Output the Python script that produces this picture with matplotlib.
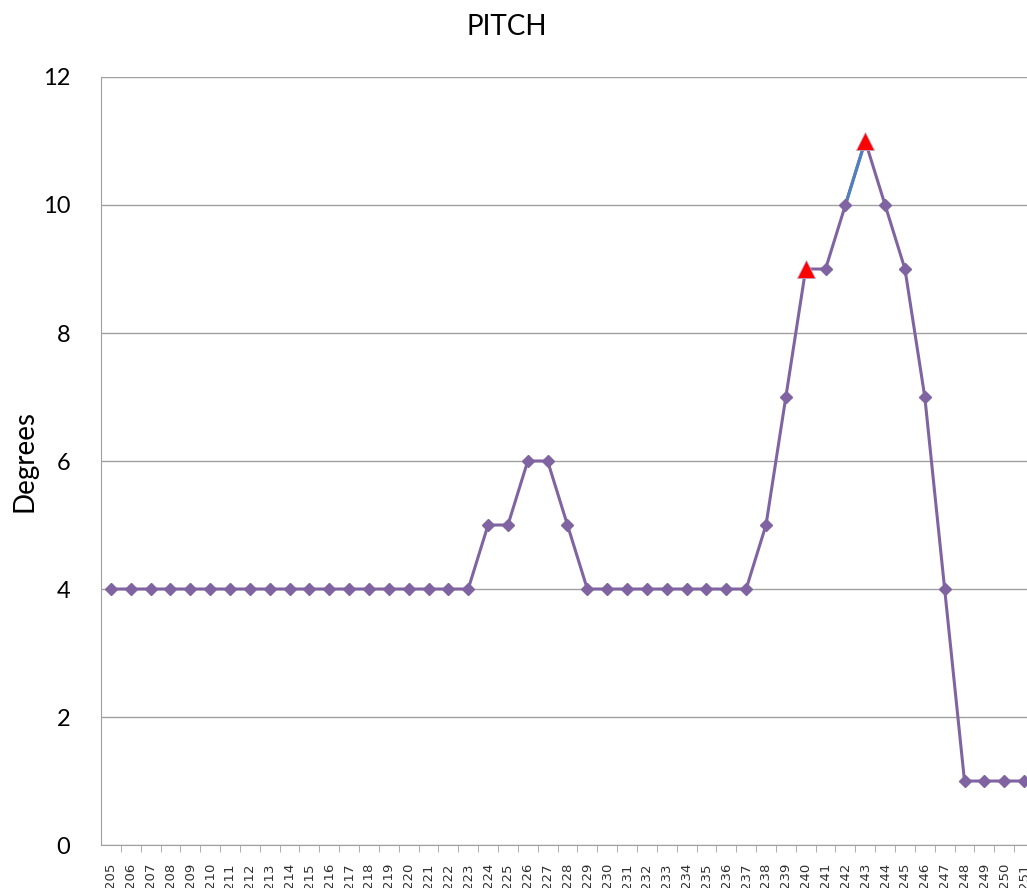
import numpy as np
import matplotlib
matplotlib.use("Agg")
import matplotlib.pyplot as plt

plt.rcParams["font.family"] = ["Lato", "DejaVu Sans"]

# frame numbers along the category axis
frames = list(range(205, 252))
# pitch in degrees per frame
pitch = [4, 4, 4, 4, 4, 4, 4, 4, 4, 4, 4, 4, 4, 4, 4, 4, 4, 4, 4,
         5, 5, 6, 6, 5,
         4, 4, 4, 4, 4, 4, 4, 4, 4,
         5, 7, 9, 9, 10, 11, 10, 9, 7, 4, 1, 1, 1, 1]
# frames flagged with red triangles
flagged = [240, 243]
# segment drawn in blue
blue_seg = (242, 243)

purple = "#8064A2"
blue = "#4F81BD"
grid = "#A0A0A0"

x = np.arange(len(frames))
y = np.array(pitch)

fig = plt.figure(figsize=(10.27, 8.88), dpi=100)
ax = fig.add_axes([0.0983, 0.0484, 0.9085, 0.8649])

ax.plot(x, y, color=purple, lw=2.2, zorder=3)
i0, i1 = frames.index(blue_seg[0]), frames.index(blue_seg[1])
ax.plot(x[i0:i1 + 1], y[i0:i1 + 1], color=blue, lw=2.2, zorder=3)

flag_idx = [frames.index(f) for f in flagged]
diam = [i for i in range(len(frames)) if i not in flag_idx]
ax.plot(x[diam], y[diam], ls="none", marker="D", ms=6, color=purple, zorder=4)
ax.plot(x[flag_idx], y[flag_idx], ls="none", marker="^", ms=13,
        color="#FF0000", mec="#C0A0C0", mew=0.6, zorder=5)

ax.set_xlim(-0.5, len(frames) - 0.5)
ax.set_ylim(0, 12)
ax.set_yticks(range(0, 13, 2))
ax.tick_params(axis="y", length=0, labelsize=17, pad=22)
ax.yaxis.grid(True, color=grid, lw=1)
ax.set_axisbelow(True)

ax.set_xticks(x)
ax.set_xticklabels([str(f) for f in frames], fontsize=9.5,
                   color="#303030", family="DejaVu Sans")
ax.tick_params(axis="x", which="major", length=0, pad=13, labelrotation=90)
ax.set_xticks(np.arange(len(frames) - 1) + 0.5, minor=True)
ax.tick_params(axis="x", which="minor", length=5, color=grid, direction="out")
for lbl in ax.get_xticklabels():
    lbl.set_verticalalignment("top")

for side in ["right", "top"]:
    ax.spines[side].set_visible(False)
for side in ["left", "bottom"]:
    ax.spines[side].set_color(grid)

ax.set_ylabel("Degrees", fontsize=20, labelpad=4)
fig.text(0.4937, 0.970, "PITCH", ha="center", va="center", fontsize=20)

fig.savefig("out.png", dpi=100)
